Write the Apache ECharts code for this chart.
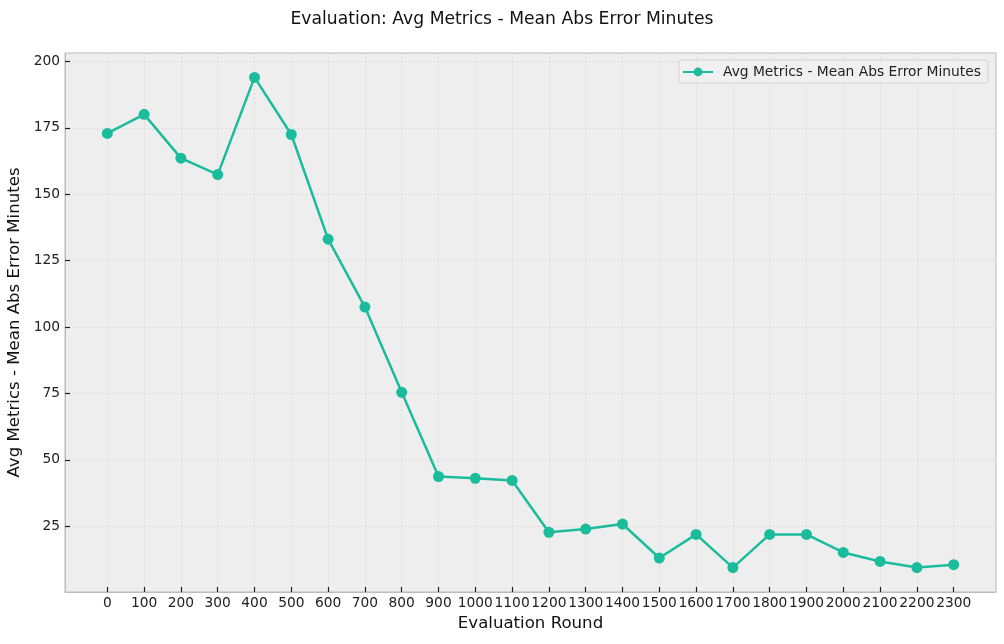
<!DOCTYPE html>
<html>
<head>
<meta charset="utf-8">
<script src="https://cdn.jsdelivr.net/npm/echarts@6/dist/echarts.min.js"></script>
<style>
  html, body { margin: 0; padding: 0; background: #fff; }
  #chart { width: 1004px; height: 644px; }
</style>
</head>
<body>
<div id="chart"></div>
<script>
// evaluation rounds and the metric values
var rounds = [0, 100, 200, 300, 400, 500, 600, 700, 800, 900, 1000, 1100,
              1200, 1300, 1400, 1500, 1600, 1700, 1800, 1900, 2000, 2100, 2200, 2300];
var maeMinutes = [172.9, 180.1, 163.6, 157.4, 194.0, 172.5, 133.1, 107.5, 75.4, 43.7, 43.0, 42.2,
                  22.7, 23.9, 25.8, 13.0, 21.9, 9.4, 21.9, 21.9, 15.1, 11.7, 9.4, 10.5];
var xTicks = [0, 100, 200, 300, 400, 500, 600, 700, 800, 900, 1000, 1100,
              1200, 1300, 1400, 1500, 1600, 1700, 1800, 1900, 2000, 2100, 2200, 2300];
var yTicks = [25, 50, 75, 100, 125, 150, 175, 200];
var seriesName = 'Avg Metrics - Mean Abs Error Minutes';

var chart = echarts.init(document.getElementById('chart'));
var font = 'DejaVu Sans';

var points = rounds.map(function(r, i) { return [r, maeMinutes[i]]; });

// plain numbers, no thousands separator
function plain(v) { return String(v); }

var xRange = { min: -115, max: 2415 };
var yRange = { min: 0.2, max: 203.2 };
var gridLine = { show: true, lineStyle: { color: '#d6d6d6', type: [2, 2], width: 0.8 } };
var tickStyle = { color: '#222', width: 1.2 };

// axis 0 only carries the dotted grid, axis 1 draws ticks and labels on top of it
chart.setOption({
    animation: false,
    textStyle: { fontFamily: font },
    title: {
        text: 'Evaluation: Avg Metrics - Mean Abs Error Minutes',
        left: 'center',
        top: 6,
        textStyle: { fontFamily: font, fontSize: 17.2, fontWeight: 'normal', color: '#111' }
    },
    grid: {
        left: 65,
        right: 8,
        top: 53,
        bottom: 52,
        outerBoundsMode: 'none',
        containLabel: false,
        show: true,
        backgroundColor: '#eeeeee',
        borderColor: '#bcbcbc',
        borderWidth: 1
    },
    legend: {
        left: 679,
        top: 60,
        padding: [5, 7, 4, 3],
        itemWidth: 30,
        itemHeight: 11,
        backgroundColor: '#f0f0f0',
        borderColor: '#d4d4d4',
        borderWidth: 1,
        borderRadius: 3,
        textStyle: { fontFamily: font, fontSize: 13.8, color: '#222', padding: [0, 0, 0, 5] },
        data: [seriesName]
    },
    xAxis: [{
        type: 'value',
        min: xRange.min,
        max: xRange.max,
        position: 'bottom',
        z: 0,
        axisLine: { show: false, onZero: false },
        axisTick: { show: false, customValues: xTicks },
        axisLabel: { show: false, customValues: xTicks },
        splitLine: gridLine
    }, {
        type: 'value',
        min: xRange.min,
        max: xRange.max,
        position: 'bottom',
        offset: 0,
        z: 3,
        name: 'Evaluation Round',
        nameLocation: 'middle',
        nameGap: 22,
        nameTextStyle: { fontFamily: font, fontSize: 16.6, color: '#111' },
        axisLine: { show: true, onZero: false, lineStyle: { color: '#bcbcbc', width: 1 } },
        axisTick: { show: true, inside: true, length: 5, customValues: xTicks, lineStyle: tickStyle },
        axisLabel: { customValues: xTicks, formatter: plain, margin: 4, fontFamily: font, fontSize: 13.8, color: '#222' },
        splitLine: { show: false }
    }],
    yAxis: [{
        type: 'value',
        min: yRange.min,
        max: yRange.max,
        position: 'left',
        z: 0,
        axisLine: { show: false, onZero: false },
        axisTick: { show: false, customValues: yTicks },
        axisLabel: { show: false, customValues: yTicks },
        splitLine: gridLine
    }, {
        type: 'value',
        min: yRange.min,
        max: yRange.max,
        position: 'left',
        offset: 0,
        z: 3,
        name: seriesName,
        nameLocation: 'middle',
        nameGap: 39,
        nameTextStyle: { fontFamily: font, fontSize: 16.6, color: '#111' },
        axisLine: { show: true, onZero: false, lineStyle: { color: '#bcbcbc', width: 1 } },
        axisTick: { show: true, inside: true, length: 5, customValues: yTicks, lineStyle: tickStyle },
        axisLabel: { customValues: yTicks, formatter: plain, margin: 5, fontFamily: font, fontSize: 13.8, color: '#222' },
        splitLine: { show: false }
    }],
    series: [{
        name: seriesName,
        type: 'line',
        xAxisIndex: 0,
        yAxisIndex: 0,
        z: 2,
        data: points,
        symbol: 'circle',
        symbolSize: 11,
        lineStyle: { color: '#1abc9c', width: 2.5 },
        itemStyle: { color: '#1abc9c' }
    }]
});
</script>
</body>
</html>
